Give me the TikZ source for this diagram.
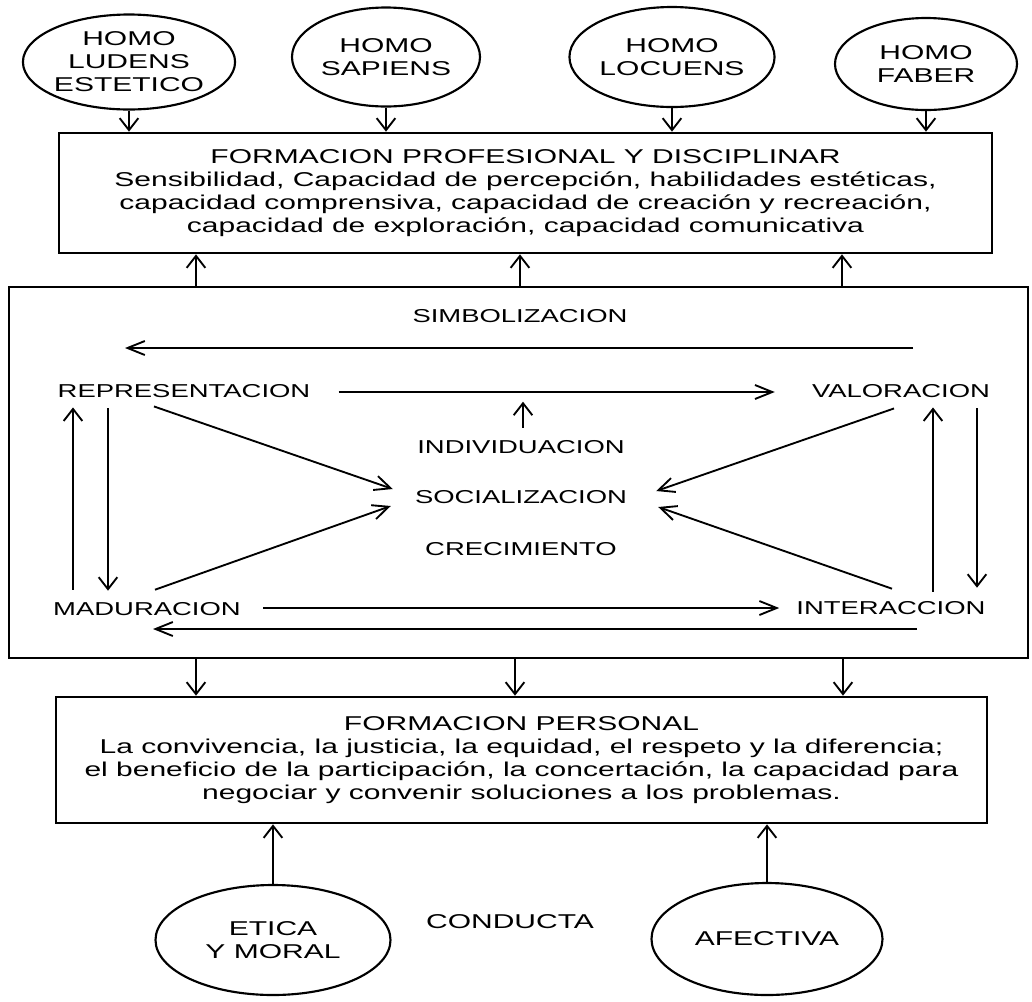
\documentclass[tikz,border=0pt]{standalone}
\usepackage{fontspec}
\setmainfont{Liberation Sans}[FakeStretch=1.5]
\newfontfamily\innerfont{Liberation Sans}[FakeStretch=1.47]
\usetikzlibrary{arrows.meta,shapes.geometric}
\begin{document}
\begin{tikzpicture}[x=0.75pt,y=-0.75pt,
  big/.style={font=\fontsize{15}{17.25}\selectfont, align=center},
  lab/.style={font=\innerfont\fontsize{14}{16}\selectfont, inner sep=0pt, anchor=base},
  boxn/.style={draw, line width=2pt, rectangle, inner sep=0pt},
  ell/.style={draw, ellipse, line width=1.6pt, inner sep=0pt, big},
  varr/.style={line width=1.4pt, -{Straight Barb[length=9pt,width=14pt]}},
  harr/.style={line width=1.4pt, -{Straight Barb[length=13pt,width=10.5pt]}},
  darr/.style={line width=1.4pt, -{Straight Barb[length=12pt,width=11pt]}}
]
\useasboundingbox (0,0) rectangle (1032,1001);

% boxes
\node[boxn, big, minimum width=933*0.75pt, minimum height=120*0.75pt] (b1) at (525.5,193)
  {FORMACION PROFESIONAL Y DISCIPLINAR\\
   Sensibilidad, Capacidad de percepción, habilidades estéticas,\\
   capacidad comprensiva, capacidad de creación y recreación,\\
   capacidad de exploración, capacidad comunicativa};
\node[boxn, line width=2.2pt, minimum width=1019*0.75pt, minimum height=371*0.75pt] (b2) at (518.5,472.5) {};
\node[boxn, big, minimum width=931*0.75pt, minimum height=126*0.75pt] (b3) at (521.5,760)
  {FORMACION PERSONAL\\
   La convivencia, la justicia, la equidad, el respeto y la diferencia;\\
   el beneficio de la participación, la concertación, la capacidad para\\
   negociar y convenir soluciones a los problemas.};

% ellipses
\node[ell, minimum width=198*0.75pt, minimum height=95*0.75pt] (e1) at (129,62) {HOMO\\LUDENS\\ESTETICO};
\node[ell, minimum width=188*0.75pt, minimum height=99*0.75pt] (e2) at (386,57) {HOMO\\SAPIENS};
\node[ell, minimum width=201*0.75pt, minimum height=100*0.75pt] (e3) at (672,57) {HOMO\\LOCUENS};
\node[ell, minimum width=182*0.75pt, minimum height=92*0.75pt] (e4) at (926,64) {HOMO\\FABER};
\node[ell, minimum width=235*0.75pt, minimum height=110*0.75pt] (eth) at (273,940) {ETICA\\Y MORAL};
\node[ell, minimum width=231*0.75pt, minimum height=112*0.75pt] (aff) at (767,939) {AFECTIVA};
\node[big, anchor=base, inner sep=0pt] (cond) at (510,928) {CONDUCTA};

% top arrows
\foreach \e in {e1,e2,e3,e4}
  \draw[varr] (\e.south) -- (\e.south |- b1.north);

\coordinate (cu1) at (196,0);
\coordinate (cu2) at (520,0);
\coordinate (cu3) at (842,0);
\coordinate (cd1) at (196,0);
\coordinate (cd2) at (515,0);
\coordinate (cd3) at (843,0);
\foreach \c in {cu1,cu2,cu3}
  \draw[varr] (b2.north -| \c) -- (b1.south -| \c);
\foreach \c in {cd1,cd2,cd3}
  \draw[varr] (b2.south -| \c) -- (b3.north -| \c);
\draw[varr] (eth.north) -- (eth.north |- b3.south);
\draw[varr] (aff.north) -- (aff.north |- b3.south);

% inner labels
\node[lab] (simb) at (520,322) {SIMBOLIZACION};
\node[lab] (rep) at (184,397) {REPRESENTACION};
\node[lab] (val) at (901,397) {VALORACION};
\node[lab] (ind) at (521,453) {INDIVIDUACION};
\node[lab] (soc) at (521,503) {SOCIALIZACION};
\node[lab] (cre) at (521,555) {CRECIMIENTO};
\node[lab] (mad) at (147,615) {MADURACION};
\node[lab] (int) at (891,614) {INTERACCION};

% long horizontal arrows
\coordinate (sR) at (913,348);
\coordinate (sL) at (125,348);
\draw[harr] (sR) -- (sL);
\coordinate (mR) at (917,629);
\coordinate (mL) at (153,629);
\draw[harr] (mR) -- (mL);

\draw[harr] ([shift={(28,-5)}]rep.base east) -- ([shift={(-37,-5)}]val.base west);
\draw[harr] ([shift={(22,-7)}]mad.base east) -- ([shift={(-17,-6)}]int.base west);

% individuacion
\draw[varr] ([shift={(2,-12)}]ind.north) -- ([shift={(2,-38)}]ind.north);

% diagonals
\draw[darr] ([shift={(-30,9)}]rep.south) -- ([shift={(-22,-14)}]soc.base west);
\draw[darr] ([shift={(8,-12)}]mad.north) -- ([shift={(-24,3)}]soc.base west);
\draw[darr] ([shift={(-7,11)}]val.south) -- ([shift={(29,-12)}]soc.base east);
\draw[darr] ([shift={(1,-12)}]int.north) -- ([shift={(31,4)}]soc.base east);

% verticals
\draw[varr] ([shift={(-74,-12)}]mad.north) -- ([shift={(-111,10)}]rep.south);
\draw[varr] ([shift={(-76,11)}]rep.south) -- ([shift={(-39,-11)}]mad.north);
\draw[varr] ([shift={(42,-9)}]int.north) -- ([shift={(32,10)}]val.south);
\draw[varr] ([shift={(76,11)}]val.south) -- ([shift={(86,-13)}]int.north);
\end{tikzpicture}
\end{document}
